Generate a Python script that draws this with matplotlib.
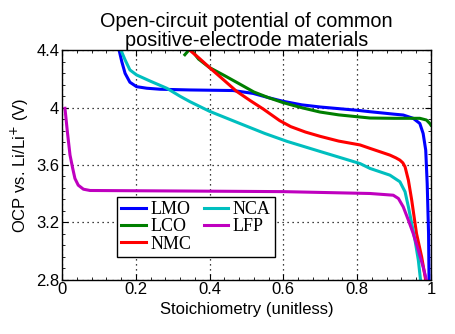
import matplotlib
matplotlib.use("Agg")
import matplotlib.pyplot as plt
from matplotlib.ticker import MultipleLocator

# ---- data ----
lmo_x = [0.155, 0.162, 0.171, 0.184, 0.202, 0.230, 0.266, 0.347, 0.464, 0.518, 0.56, 0.599, 0.65,
         0.70, 0.80, 0.835, 0.90, 0.925, 0.952, 0.970, 0.979, 0.986, 0.990, 0.9937, 0.995]
lmo_y = [4.40, 4.322, 4.24, 4.178, 4.147, 4.136, 4.129, 4.124, 4.12, 4.10, 4.07, 4.045, 4.02,
         4.005, 3.982, 3.972, 3.955, 3.949, 3.926, 3.89, 3.82, 3.704, 3.47, 3.12, 2.80]

lco_x = [0.333, 0.343, 0.352, 0.37, 0.40, 0.44, 0.482, 0.52, 0.56, 0.60, 0.65, 0.699, 0.75,
         0.808, 0.835, 0.90, 0.970, 0.988, 0.997, 1.0]
lco_y = [4.37, 4.40, 4.40, 4.34, 4.28, 4.225, 4.165, 4.11, 4.07, 4.035, 4.0, 3.97, 3.95,
         3.935, 3.928, 3.926, 3.926, 3.914, 3.89, 3.879]

nmc_x = [0.347, 0.37, 0.40, 0.44, 0.473, 0.51, 0.546, 0.59, 0.62, 0.66, 0.70, 0.75, 0.808, 0.835,
         0.865, 0.889, 0.905, 0.916, 0.924, 0.930, 0.939, 0.948, 0.961, 0.975, 0.986]
nmc_y = [4.40, 4.35, 4.28, 4.19, 4.115, 4.05, 3.99, 3.91, 3.868, 3.83, 3.80, 3.767, 3.74, 3.716,
         3.69, 3.669, 3.65, 3.634, 3.615, 3.587, 3.494, 3.355, 3.122, 2.958, 2.795]

nca_x = [0.16, 0.171, 0.184, 0.202, 0.238, 0.284, 0.32, 0.347, 0.40, 0.482, 0.55, 0.61, 0.699,
         0.808, 0.835, 0.889, 0.916, 0.930, 0.939, 0.948, 0.957, 0.966, 0.972]
nca_y = [4.40, 4.334, 4.264, 4.229, 4.187, 4.136, 4.08, 4.042, 3.975, 3.89, 3.82, 3.765, 3.695,
         3.61, 3.576, 3.529, 3.483, 3.413, 3.308, 3.192, 3.075, 2.935, 2.795]

lfp_x = [0.008, 0.0145, 0.0217, 0.029, 0.035, 0.044, 0.058, 0.076, 0.347, 0.6, 0.835, 0.898,
         0.912, 0.925, 0.939, 0.952, 0.966, 0.979, 0.988]
lfp_y = [3.996, 3.832, 3.669, 3.576, 3.506, 3.459, 3.431, 3.422, 3.418, 3.414, 3.401, 3.389,
         3.366, 3.308, 3.215, 3.122, 3.005, 2.888, 2.795]

series = [
    ("LMO", lmo_x, lmo_y, "#0000ff"),
    ("LCO", lco_x, lco_y, "#007f00"),
    ("NMC", nmc_x, nmc_y, "#ff0000"),
    ("NCA", nca_x, nca_y, "#00bfbf"),
    ("LFP", lfp_x, lfp_y, "#bf00bf"),
]

xticks = [0, 0.2, 0.4, 0.6, 0.8, 1]
xticklabels = ["0", "0.2", "0.4", "0.6", "0.8", "1"]
yticks = [2.8, 3.2, 3.6, 4.0, 4.4]
yticklabels = ["2.8", "3.2", "3.6", "4", "4.4"]

plt.rcParams['font.family'] = ['Liberation Sans', 'DejaVu Sans']

fig = plt.figure(figsize=(4.55, 3.34), dpi=100)
ax = fig.add_axes([0.1363, 0.163, 0.8107, 0.686])

for name, xs, ys, c in series:
    ax.plot(xs, ys, color=c, lw=2.2, label=name, solid_joinstyle='round')

ax.set_xlim(0, 1)
ax.set_ylim(2.8, 4.4)
ax.set_xticks(xticks)
ax.set_xticklabels(xticklabels)
ax.set_yticks(yticks)
ax.set_yticklabels(yticklabels)
ax.xaxis.set_minor_locator(MultipleLocator(0.04))
ax.yaxis.set_minor_locator(MultipleLocator(0.08))
ax.tick_params(which='both', direction='in', top=True, right=True, labelsize=12)
ax.tick_params(which='major', length=4, width=0.8, pad=2)
ax.tick_params(which='minor', length=2, width=0.6)
ax.grid(True, which='major', linestyle=(0, (1, 3)), color='black', linewidth=0.9)
for s in ax.spines.values():
    s.set_linewidth(1.0)

ax.set_xlabel("Stoichiometry (unitless)", fontsize=12, labelpad=3)
ax.set_ylabel("OCP vs. Li/Li$^{+}$ (V)", fontsize=12, labelpad=4)
ax.set_title("Open-circuit potential of common\npositive-electrode materials", fontsize=14.3, linespacing=1.0, pad=3)

leg = ax.legend(loc='lower left', bbox_to_anchor=(0.149, 0.097), ncol=2, fancybox=False,
                framealpha=1, edgecolor='black', borderaxespad=0, handlelength=1.35,
                columnspacing=0.7, labelspacing=0.02, borderpad=0.25, handletextpad=0.25,
                prop={'family': 'Liberation Serif', 'size': 13})
leg.get_frame().set_linewidth(1.0)

fig.savefig("out.png", dpi=100)
